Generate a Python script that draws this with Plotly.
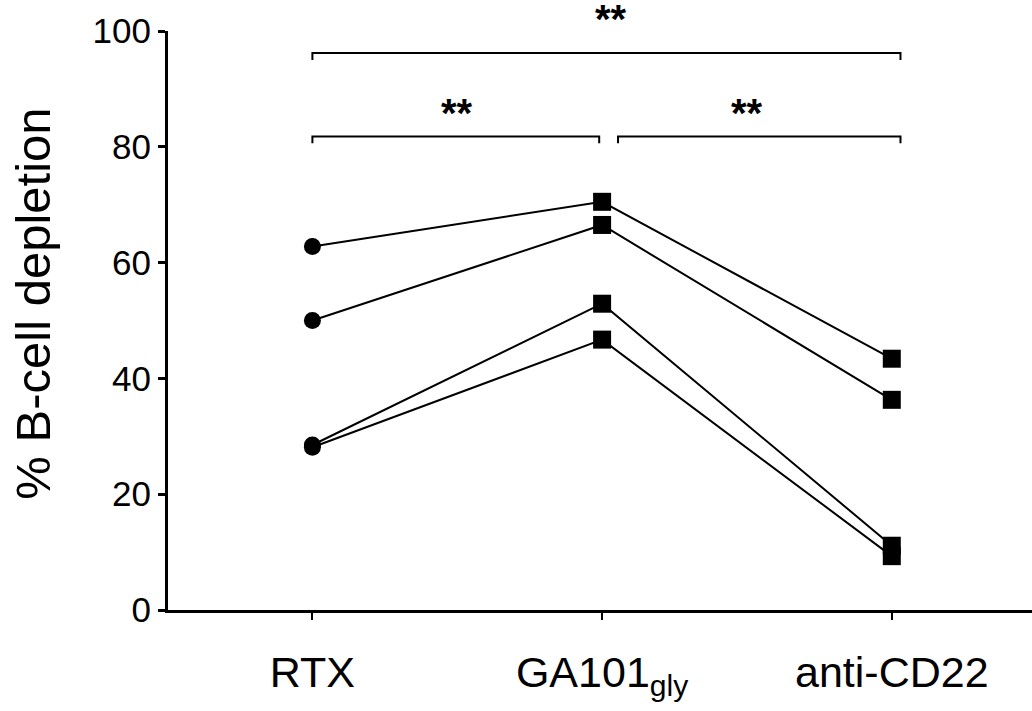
import plotly.graph_objects as go

categories = ["RTX", "GA101<sub>gly</sub>", "anti-CD22"]
subject_1 = [62.8, 70.5, 43.4]
subject_2 = [50.0, 66.5, 36.3]
subject_3 = [28.5, 52.9, 11.1]
subject_4 = [28.1, 46.7, 9.3]
subjects = [subject_1, subject_2, subject_3, subject_4]
symbols = ["circle", "square", "square"]
y_ticks = [0, 20, 40, 60, 80, 100]
y_range = [0, 100]

# significance comparisons: (group a, group b, bracket height, label height, label)
comparisons = [(0, 2, 96.2, 102.0, "**"), (0, 1, 81.8, 85.8, "**"), (1, 2, 81.8, 85.8, "**")]

FONT = "Arial, 'Liberation Sans', Helvetica, sans-serif"
xs = list(range(len(categories)))

fig = go.Figure()
for vals in subjects:
    fig.add_trace(go.Scatter(
        x=xs, y=vals, mode="lines",
        line=dict(color="black", width=2),
        showlegend=False, cliponaxis=False, hoverinfo="skip",
    ))
for vals in subjects:
    fig.add_trace(go.Scatter(
        x=xs, y=vals, mode="markers",
        marker=dict(symbol=symbols, size=[17, 18, 18], color="black", opacity=1,
                    line=dict(width=0)),
        showlegend=False, cliponaxis=False,
    ))

shapes = []
annotations = []
tick_drop = 1.2
for a, b, h, th, lab in comparisons:
    x0 = a + (0.055 if a == 1 else 0.0)
    x1 = b - 0.01 if b == 1 else b + 0.03
    path = f"M {x0},{h - tick_drop} L {x0},{h} L {x1},{h} L {x1},{h - tick_drop}"
    shapes.append(dict(type="path", path=path, xref="x", yref="y",
                       line=dict(color="black", width=2)))
    annotations.append(dict(x=(a + b) / 2 + (0.03 if (a, b) == (0, 2) else 0),
                            y=(th - y_range[0]) / (y_range[1] - y_range[0]),
                            xref="x", yref="paper", text=f"<b>{lab}</b>",
                            showarrow=False, yanchor="middle",
                            font=dict(family=FONT, size=40, color="black")))

annotations.append(dict(text="% B-cell depletion", textangle=-90, showarrow=False,
                        xref="paper", yref="paper", x=-0.1563, y=0.529,
                        xanchor="center", yanchor="middle",
                        font=dict(family=FONT, size=49, color="black")))

fig.update_layout(
    width=1032, height=711,
    margin=dict(l=168, r=0, t=31, b=100.5),
    paper_bgcolor="white", plot_bgcolor="white",
    font=dict(family=FONT, color="black"),
    shapes=shapes, annotations=annotations,
    xaxis=dict(
        range=[-0.4985, 2.484], tickmode="array", tickvals=xs, ticktext=categories,
        showline=True, linecolor="black", linewidth=3, showgrid=False, zeroline=False,
        ticks="outside", ticklen=7, tickwidth=2, tickcolor="black", automargin=False,
        tickfont=dict(family=FONT, size=43, color="black"), ticklabelstandoff=15,
    ),
    yaxis=dict(
        range=y_range, tickmode="array", tickvals=y_ticks,
        showline=True, linecolor="black", linewidth=3, showgrid=False, zeroline=False,
        ticks="outside", ticklen=7, tickwidth=3, tickcolor="black", automargin=False,
        tickfont=dict(family=FONT, size=35, color="black"), ticklabelstandoff=0,
    ),
)

fig.write_html("out.html", config={"displayModeBar": False},
               post_script="document.body.style.margin='0';document.body.style.overflow='hidden';")
